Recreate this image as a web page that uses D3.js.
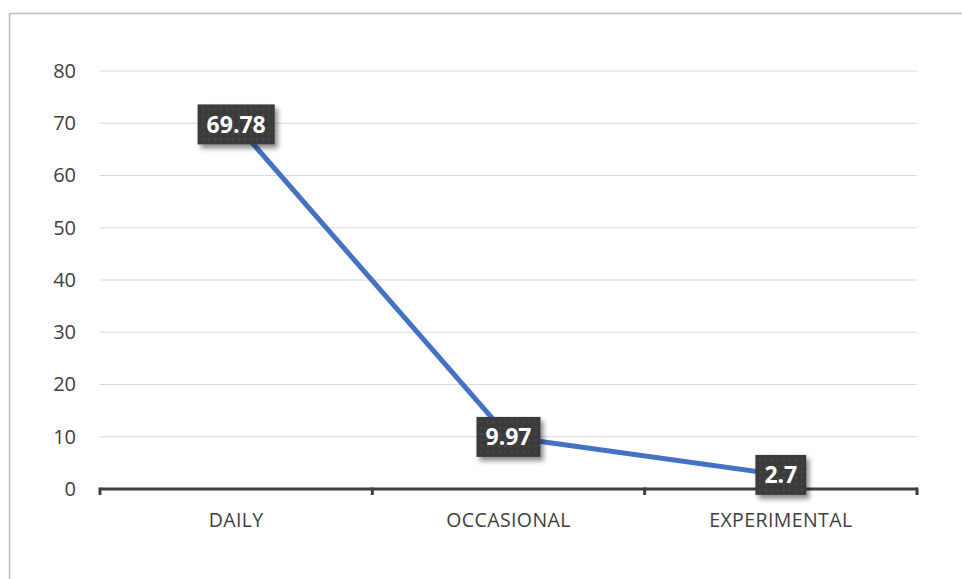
<!DOCTYPE html>
<html>
<head>
<meta charset="utf-8">
<script src="https://cdn.jsdelivr.net/npm/d3@7"></script>
<style>
  html, body { margin: 0; padding: 0; background: #fff; }
  svg { display: block; }
</style>
</head>
<body>
<svg id="chart" width="962" height="579"></svg>
<script>
// Usage frequency data
const categories = ["DAILY", "OCCASIONAL", "EXPERIMENTAL"];
const values = [69.78, 9.97, 2.7];
const yTicks = [0, 10, 20, 30, 40, 50, 60, 70, 80];

const svg = d3.select("#chart");
const W = 962, H = 579;
const margin = { left: 100, right: 45, top: 71, bottom: 90 };
const plotW = W - margin.left - margin.right;
const plotH = H - margin.top - margin.bottom;
const FONT = "'Open Sans', sans-serif";

// outer chart frame
svg.append("rect")
  .attr("x", 9.5).attr("y", 13.5)
  .attr("width", 980).attr("height", 600)
  .attr("fill", "#fff").attr("stroke", "#bfbfbf").attr("stroke-width", 1.5);

const defs = svg.append("defs");
const pat = defs.append("pattern")
  .attr("id", "dots").attr("patternUnits", "userSpaceOnUse")
  .attr("width", 6).attr("height", 6);
pat.append("rect").attr("width", 6).attr("height", 6).attr("fill", "#3b3b3b");
pat.append("circle").attr("cx", 3).attr("cy", 3).attr("r", 1.3).attr("fill", "#484848");

const shadow = defs.append("filter").attr("id", "shadow")
  .attr("x", "-20%").attr("y", "-20%").attr("width", "150%").attr("height", "160%");
shadow.append("feDropShadow")
  .attr("dx", 3).attr("dy", 4).attr("stdDeviation", 2.5)
  .attr("flood-color", "#000").attr("flood-opacity", 0.45);

const g = svg.append("g").attr("transform", `translate(${margin.left},${margin.top})`);

const x = d3.scaleBand().domain(categories).range([0, plotW]);
const y = d3.scaleLinear().domain([0, 80]).range([plotH, 0]);

// horizontal gridlines
g.append("g").selectAll("line")
  .data(yTicks.filter(d => d > 0))
  .join("line")
  .attr("x1", 0).attr("x2", plotW)
  .attr("y1", d => y(d)).attr("y2", d => y(d))
  .attr("stroke", "#d9d9d9").attr("stroke-width", 1);

// y-axis labels
const yAxis = g.append("g").call(d3.axisLeft(y).tickValues(yTicks).tickSize(0).tickPadding(24));
yAxis.select(".domain").remove();
yAxis.selectAll("text")
  .attr("font-family", FONT)
  .attr("font-size", 20).attr("fill", "#404040");

// x-axis with boundary tick marks
const xAxis = g.append("g").attr("transform", `translate(0,${plotH})`)
  .call(d3.axisBottom(x).tickSize(0));
xAxis.select(".domain").attr("stroke", "#404040").attr("stroke-width", 3)
  .attr("d", `M0,0H${plotW}`);
xAxis.selectAll("text")
  .attr("y", 38).attr("dy", 0)
  .attr("font-family", FONT).attr("letter-spacing", 0.4)
  .attr("font-size", 19.5).attr("fill", "#404040");
const bounds = [0, ...categories.map(c => x(c) + x.bandwidth())];
xAxis.append("g").selectAll("line").data(bounds).join("line")
  .attr("x1", d => d).attr("x2", d => d)
  .attr("y1", -1.5).attr("y2", 6)
  .attr("stroke", "#404040").attr("stroke-width", 3);

// series line
const line = d3.line()
  .x((d, i) => x(categories[i]) + x.bandwidth() / 2)
  .y(d => y(d));
g.append("path").datum(values)
  .attr("d", line)
  .attr("fill", "none").attr("stroke", "#4472c4").attr("stroke-width", 5)
  .attr("stroke-linejoin", "round");

// data labels
const labels = g.append("g").selectAll("g").data(values).join("g")
  .attr("transform", (d, i) => `translate(${x(categories[i]) + x.bandwidth() / 2},${y(d)})`);
labels.each(function (d) {
  const sel = d3.select(this);
  const t = sel.append("text")
    .attr("text-anchor", "middle").attr("dy", "0.36em")
    .attr("font-family", FONT)
    .attr("font-weight", "bold").attr("font-size", 23)
    .attr("fill", "#fff").text(d);
  const bb = t.node().getBBox();
  const padX = 9, h = 40;
  sel.insert("rect", "text")
    .attr("x", bb.x - padX).attr("y", -h / 2)
    .attr("width", bb.width + padX * 2).attr("height", h)
    .attr("fill", "url(#dots)").attr("filter", "url(#shadow)");
});
</script>
</body>
</html>
